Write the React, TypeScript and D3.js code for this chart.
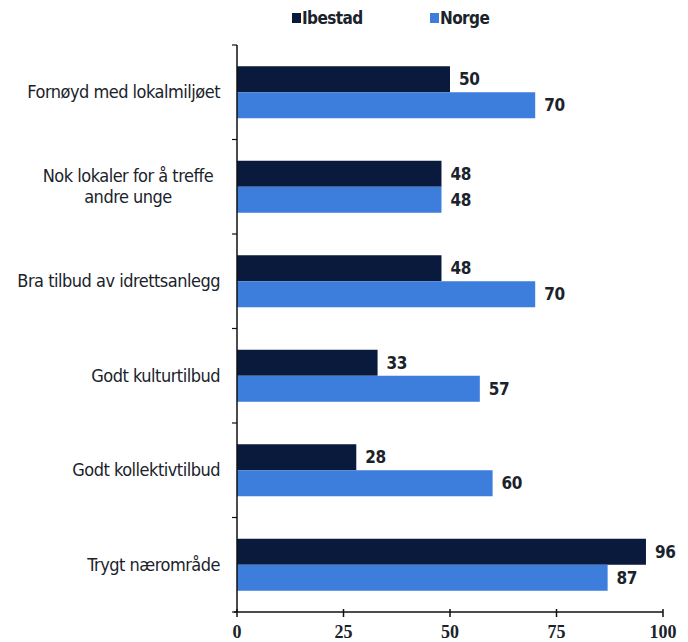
import React from "react";
import * as d3 from "d3";

const categories = [
  ["Fornøyd med lokalmiljøet"],
  ["Nok lokaler for å treffe", "andre unge"],
  ["Bra tilbud av idrettsanlegg"],
  ["Godt kulturtilbud"],
  ["Godt kollektivtilbud"],
  ["Trygt nærområde"],
];
const ibestad = [50, 48, 48, 33, 28, 96];
const norge = [70, 48, 70, 57, 60, 87];
const seriesNames = ["Ibestad", "Norge"];
const xTicks = [0, 25, 50, 75, 100];

const W = 688;
const H = 642;
const FONT = "'DejaVu Sans Condensed', 'Open Sans', sans-serif";
const TEXT = "#1a232b";
const COLORS = ["#0a1a3c", "#3d7ddc"];

export default function App() {
  const left = 237, right = 663, top = 45, bottom = 612;
  const x = d3.scaleLinear().domain([0, 100]).range([left, right]);
  const y = d3.scaleBand<number>().domain(d3.range(categories.length)).range([top, bottom]);
  const inner = d3.scaleBand<number>().domain([0, 1]).range([0, 52]);
  const offset = (y.bandwidth() - 52) / 2;
  const series = [ibestad, norge];

  return (
    <svg width={W} height={H} style={{ position: "absolute", left: 0, top: 0, background: "#fff" }}>
      {/* legend */}
      <g fontFamily={FONT} fontSize={17} fill={TEXT} fontWeight="bold">
        <rect x={292} y={13} width={9} height={10} fill={COLORS[0]} />
        <text x={302} y={24} letterSpacing={-0.6}>{seriesNames[0]}</text>
        <rect x={430} y={13} width={9} height={10} fill={COLORS[1]} />
        <text x={440} y={24} letterSpacing={-0.6}>{seriesNames[1]}</text>
      </g>
      {/* bars */}
      {categories.map((c, i) =>
        series.map((s, j) => {
          const by = (y(i) as number) + offset + (inner(j) as number);
          return (
            <g key={`${i}-${j}`}>
              <rect x={x(0)} y={by} width={x(s[i]) - x(0)} height={inner.bandwidth()} fill={COLORS[j]} />
              <text
                x={x(s[i]) + 9}
                y={by + inner.bandwidth() / 2 + 6}
                fontFamily={FONT}
                fontSize={17}
                fontWeight="bold"
                fill={TEXT}
                letterSpacing={-0.4}
              >
                {s[i]}
              </text>
            </g>
          );
        })
      )}
      {/* category labels */}
      {categories.map((lines, i) => {
        const cy = (y(i) as number) + y.bandwidth() / 2;
        const n = lines.length;
        const lh = 21;
        return (
          <text
            key={i}
            fontFamily={FONT}
            fontSize={18}
            fill={TEXT}
            letterSpacing={-0.5}
            textAnchor={n > 1 ? "middle" : "end"}
          >
            {lines.map((l, k) => (
              <tspan key={k} x={n > 1 ? 128 : 220} y={cy + 6 + (k - (n - 1) / 2) * lh}>
                {l}
              </tspan>
            ))}
          </text>
        );
      })}
      {/* axes */}
      <line x1={left} x2={left} y1={top} y2={bottom} stroke="#111" strokeWidth={1.5} />
      {d3.range(categories.length + 1).map((i) => {
        const ty = i < categories.length ? (y(i) as number) : bottom;
        return <line key={i} x1={left - 5} x2={left} y1={ty} y2={ty} stroke="#111" strokeWidth={1.2} />;
      })}
      <line x1={left - 3} x2={right} y1={bottom} y2={bottom} stroke="#111" strokeWidth={1.5} />
      {xTicks.map((t) => (
        <g key={t}>
          <line x1={x(t)} x2={x(t)} y1={bottom - 3} y2={bottom + 5} stroke="#111" strokeWidth={1.5} />
          <text
            x={x(t)}
            y={bottom + 26}
            textAnchor="middle"
            fontFamily="'Liberation Serif', serif"
            fontSize={18}
            fontWeight="bold"
            fill={TEXT}
          >
            {t}
          </text>
        </g>
      ))}
    </svg>
  );
}
